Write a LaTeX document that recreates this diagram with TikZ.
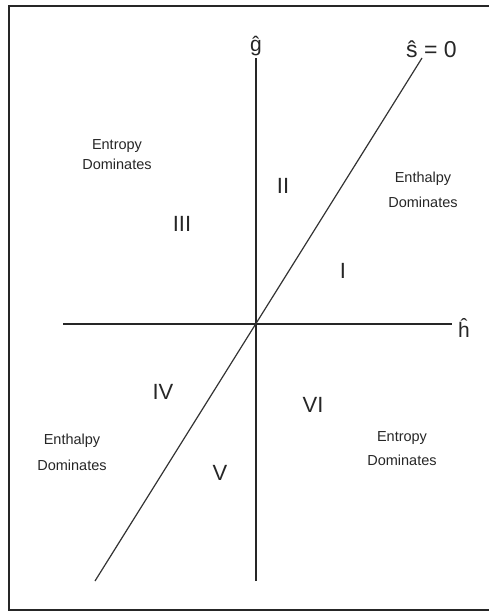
\documentclass[tikz,border=0pt]{standalone}
\usepackage{fontspec}
\setmainfont{Liberation Sans}
\begin{document}
\begin{tikzpicture}[x=1pt,y=-1pt,
  axis/.style={line width=1.5pt,black!85},
  sline/.style={line width=1.2pt,black!80},
  frame/.style={line width=2pt,black!85},
  region/.style={font=\fontsize{22}{24}\selectfont,text=black!85,inner sep=0pt},
  dom/.style={font=\fontsize{14.5}{#1}\selectfont,text=black!85,align=center,inner sep=0pt},
  axlbl/.style={font=\fontsize{21}{24}\selectfont,text=black!85,inner sep=0pt}]
\useasboundingbox (0,0) rectangle (489,613);
% frame
\coordinate (ftr) at (489,6);
\coordinate (ftl) at (9,6);
\coordinate (fbl) at (9,610);
\coordinate (fbr) at (489,610);
\draw[frame] (ftr) -- (ftl) -- (fbl) -- (fbr);
% axes
\coordinate (O) at (256,324);
\coordinate (gtop) at (256,58);
\coordinate (gbot) at (256,581);
\coordinate (hleft) at (63,324);
\coordinate (hright) at (452,324);
\coordinate (stop) at (422,58);
\coordinate (sbot) at (95,581);
\draw[axis] (gbot) -- (gtop);
\draw[axis] (hleft) -- (hright);
\draw[sline] (sbot) -- (stop);
% axis labels
\node[axlbl,anchor=base] (glbl) at (256,51) {ĝ};
\node[axlbl,font=\fontsize{23}{26}\selectfont,anchor=base west] (slbl) at (406,57) {ŝ = 0};
\node[axlbl,anchor=base] (hlbl) at (464,337) {ĥ};
% regions
\node[region] (rI) at (343,271) {I};
\node[region] (rII) at (283,186) {II};
\node[region] (rIII) at (182,224) {III};
\node[region] (rIV) at (163,392) {IV};
\node[region] (rV) at (220,473) {V};
\node[region] (rVI) at (313,405) {VI};
% dominance labels
\node[dom=20] (d1) at (117,155) {Entropy\\Dominates};
\node[dom=25] (d2) at (423,190) {Enthalpy\\Dominates};
\node[dom=26] (d3) at (72,452) {Enthalpy\\Dominates};
\node[dom=24] (d4) at (402,449) {Entropy\\Dominates};
\end{tikzpicture}
\end{document}
